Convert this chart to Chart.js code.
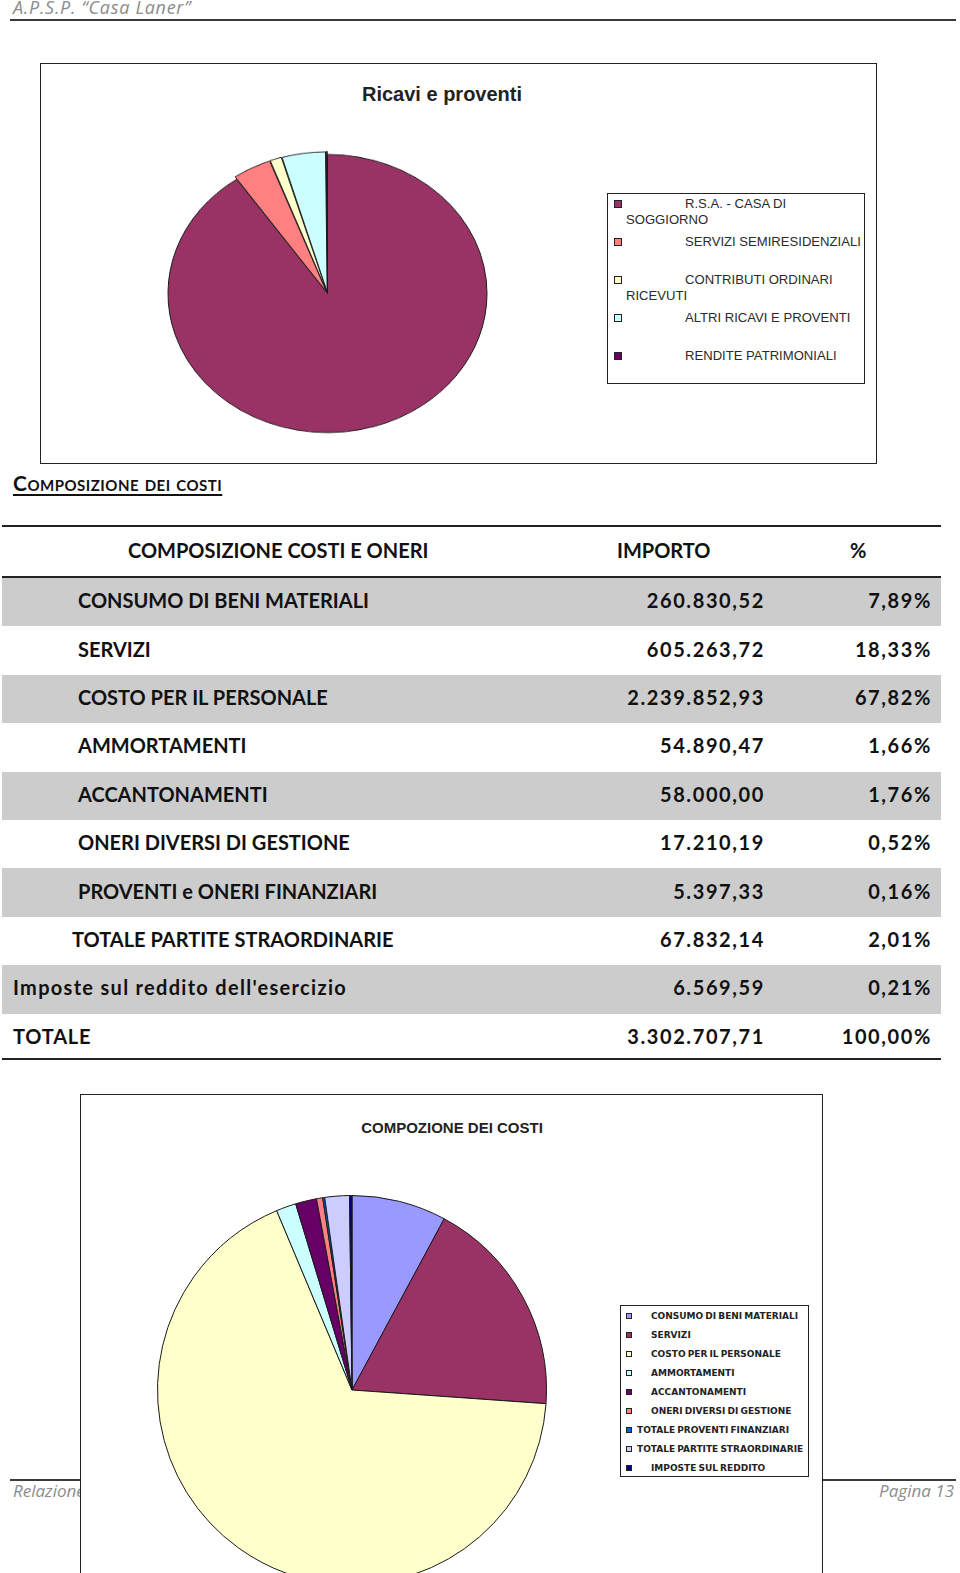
<!DOCTYPE html>
<html lang="it">
<head>
<meta charset="utf-8">
<title>Composizione dei costi</title>
<script src="https://cdn.jsdelivr.net/npm/chart.js@4.4.1/dist/chart.umd.min.js"></script>
<style>
  html, body { margin: 0; padding: 0; background: #fff; }
  body { position: relative; width: 960px; height: 1573px; overflow: hidden; color: #111; }
  .abs { position: absolute; }
  .page-note { font: italic 17px "Open Sans", sans-serif; color: #8c8c8c; white-space: nowrap; }
  .page-head { font-size: 18px; letter-spacing: 0.7px; line-height: 14px; }
  .rule { left: 10px; width: 946px; height: 2px; background: #3a3a3a; }
  .frame { border: 1px solid #222; background: #fff; box-sizing: border-box; }
  .chart-title { font: bold 20px "Liberation Sans", Arial, sans-serif; color: #222; transform: translate(-50%, -50%); white-space: nowrap; }
  .legend { border: 1px solid #222; background: #fff; box-sizing: border-box; }
  .mark { box-sizing: border-box; border: 1px solid #222; }
  .leg1 { font: 13.1px "Liberation Sans", Arial, sans-serif; color: #2a2a2a; line-height: 16px; text-indent: 59px; width: 237px; }
  .leg2 { font: bold 9px "DejaVu Sans", sans-serif; color: #222; line-height: 10px; white-space: nowrap; word-spacing: -1px; }
  .section { left: 13px; top: 470px; font: bold 21px Lato, sans-serif; letter-spacing: 0.5px; font-variant: small-caps; text-decoration: underline; text-decoration-thickness: 2px; text-underline-offset: 3px; color: #111; }
  .cell { font: bold 20px Lato, sans-serif; color: #111; white-space: nowrap; }
  .mixed { letter-spacing: 1.3px; }
  .num { letter-spacing: 1.6px; }
  .pie-wrap { transform-origin: 50% 50%; }
</style>
</head>
<body>
<script>
// Ricavi e proventi (quote stimate dal grafico, %)
const ricaviLabels = ['R.S.A. - CASA DI SOGGIORNO', 'SERVIZI SEMIRESIDENZIALI', 'CONTRIBUTI ORDINARI RICEVUTI', 'ALTRI RICAVI E PROVENTI', 'RENDITE PATRIMONIALI'];
const ricaviShare = [90.35, 3.9, 1.2, 4.4, 0.15];
const ricaviColors = ['#993366', '#ff8080', '#ffffcc', '#ccffff', '#660066'];

// Composizione costi e oneri
const costLabels = ['CONSUMO DI BENI MATERIALI', 'SERVIZI', 'COSTO PER IL PERSONALE', 'AMMORTAMENTI', 'ACCANTONAMENTI', 'ONERI DIVERSI DI GESTIONE', 'PROVENTI e ONERI FINANZIARI', 'TOTALE PARTITE STRAORDINARIE', "Imposte sul reddito dell'esercizio"];
const costLegendLabels = ['CONSUMO DI BENI MATERIALI', 'SERVIZI', 'COSTO PER IL PERSONALE', 'AMMORTAMENTI', 'ACCANTONAMENTI', 'ONERI DIVERSI DI GESTIONE', 'TOTALE PROVENTI FINANZIARI', 'TOTALE PARTITE STRAORDINARIE', 'IMPOSTE SUL REDDITO'];
const costValues = [260830.52, 605263.72, 2239852.93, 54890.47, 58000.00, 17210.19, 5397.33, 67832.14, 6569.59];
const costPercent = [7.89, 18.33, 67.82, 1.66, 1.76, 0.52, 0.16, 2.01, 0.21];
const costTotal = 3302707.71;
const costColors = ['#9999ff', '#993366', '#ffffcc', '#ccffff', '#660066', '#ff8080', '#0066cc', '#ccccff', '#000080'];

const fmt = (v) => {
    const [int, dec] = v.toFixed(2).split('.');
    return int.replace(/\B(?=(\d{3})+(?!\d))/g, '.') + ',' + dec;
};

const add = (cls, css, text) => {
    const el = document.createElement('div');
    el.className = 'abs ' + cls;
    el.style.cssText = css;
    if (text !== undefined) el.textContent = text;
    document.body.appendChild(el);
    return el;
};

// page header
add('page-note page-head', 'left:13px;top:0px;', 'A.P.S.P. \u201cCasa Laner\u201d');
add('rule', 'top:19px;');

// footer (covered in part by the second chart)
add('rule', 'top:1479px;');
add('page-note', 'left:13px;top:1479px;', 'Relazione');
add('page-note', 'right:6px;top:1479px;', 'Pagina 13');

// chart 1 frame
add('frame', 'left:40px;top:63px;width:837px;height:401px;');
add('chart-title', 'left:442px;top:94px;', 'Ricavi e proventi');

const pieOptions = {
    responsive: true,
    maintainAspectRatio: false,
    animation: false,
    events: [],
    layout: { padding: 0 },
    plugins: { legend: { display: false }, tooltip: { enabled: false } },
};

const makePie = (css, labels, values, colors, offset) => {
    const wrap = add('pie-wrap', css);
    const canvas = document.createElement('canvas');
    wrap.appendChild(canvas);
    return new Chart(canvas, {
        type: 'pie',
        data: {
            labels,
            datasets: [{
                data: values,
                backgroundColor: colors,
                borderColor: '#1a1a1a',
                borderWidth: 1,
                hoverOffset: 0,
                offset,
            }],
        },
        options: pieOptions,
    });
};

// ellipse look: circle squeezed vertically (rx 159, ry 139)
makePie('left:164px;top:130px;width:327px;height:327px;transform:scaleY(0.872);',
    ricaviLabels, ricaviShare, ricaviColors, [0, 7, 7, 7, 7]);

add('legend', 'left:607px;top:193px;width:258px;height:191px;');
ricaviLabels.forEach((label, i) => {
    const cy = 204 + i * 38.1;
    add('mark', `left:614px;top:${cy - 4}px;width:8px;height:8px;background:${ricaviColors[i]};`);
    add('leg1', `left:626px;top:${cy - 8}px;`, label);
});

// section heading
add('section', '', 'Composizione dei costi');

// table
const rowTop = 578, rowH = 48.4;
add('rule', 'left:2px;width:939px;top:525px;background:#222;');
add('rule', 'left:2px;width:939px;top:576px;background:#222;');
add('cell', 'left:128px;top:538px;', 'COMPOSIZIONE COSTI E ONERI');
add('cell', 'left:617px;top:538px;', 'IMPORTO');
add('cell', 'left:850px;top:538px;', '%');

const tableRows = costLabels.map((l, i) => [l, costValues[i], costPercent[i]]);
tableRows.push(['TOTALE', costTotal, 100]);
tableRows.forEach(([label, value, pct], i) => {
    const top = rowTop + i * rowH;
    if (i % 2 === 0 && i < tableRows.length - 1) {
        add('', `left:2px;width:939px;top:${top}px;height:${rowH}px;background:#cccccc;`);
    }
    const ty = top + rowH / 2 - 14;
    const left = i >= costLabels.length - 1 ? 13 : (i === costLabels.length - 2 ? 72 : 78);
    const mixed = /[a-z]/.test(label.replace(/^[A-Z ]+e /, '')) ? ' mixed' : '';
    add('cell' + mixed, `left:${left}px;top:${ty}px;${label === 'TOTALE' ? 'letter-spacing:0.8px;' : ''}`, label);
    add('cell num', `right:${960 - 765}px;top:${ty}px;`, fmt(value));
    add('cell num', `right:${960 - 932}px;top:${ty}px;`, pct.toFixed(2).replace('.', ',') + '%');
});
add('rule', 'left:2px;width:939px;top:1058px;background:#222;');

// chart 2 frame (covers the footer line)
add('frame', 'left:80px;top:1094px;width:743px;height:600px;');
add('chart-title', 'left:452px;top:1127px;font-size:15px;', 'COMPOZIONE DEI COSTI');

makePie('left:157px;top:1195px;width:390px;height:390px;',
    costLegendLabels, costValues, costColors, 0);

add('legend', 'left:620px;top:1305px;width:189px;height:172px;');
costLegendLabels.forEach((label, i) => {
    const cy = 1316 + i * 19.05;
    add('mark', `left:626px;top:${cy - 3}px;width:6px;height:6px;background:${costColors[i]};`);
    const shifted = label.startsWith('TOTALE');
    add('leg2', `left:${shifted ? 637 : 651}px;top:${cy - 5}px;`, label);
});
</script>
</body>
</html>
